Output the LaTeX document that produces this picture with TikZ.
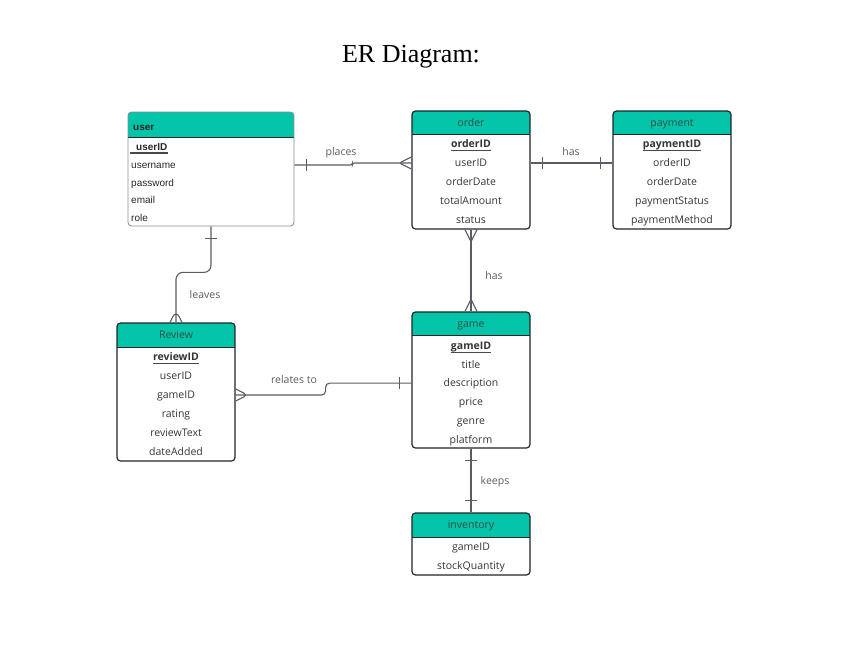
\documentclass[tikz,border=0pt]{standalone}
\usepackage{fontspec}
\setmainfont{Liberation Serif}
\newfontfamily\erfont{Open Sans}
\newfontfamily\userfont{Liberation Sans}
\usepackage{xcolor}
\usepackage{tikz}
\usetikzlibrary{decorations.markings}
\definecolor{tealc}{RGB}{2,196,168}
\definecolor{boxc}{RGB}{34,36,40}
\definecolor{userc}{RGB}{140,140,140}
\definecolor{linec}{RGB}{88,92,100}
\definecolor{txtc}{RGB}{50,52,56}
\definecolor{hdrc}{RGB}{48,76,72}
\newcommand{\attrsize}{\fontsize{10.5}{12}\selectfont}

\tikzset{
	one start/.style={postaction={decorate, decoration={markings, mark=at position 12pt with {\draw[linec, line width=1.1pt] (0,-6pt) -- (0,6pt);}}}},
	one end/.style={postaction={decorate, decoration={markings, mark=at position -12pt with {\draw[linec, line width=1.1pt] (0,-6pt) -- (0,6pt);}}}},
	many start/.style={postaction={decorate, decoration={markings, mark=at position 0 with {\draw[linec, line width=1.1pt] (0,-6pt) -- (12pt,0) -- (0,6pt);}}}},
	many end/.style={postaction={decorate, decoration={markings, mark=at position 1 with {\draw[linec, line width=1.1pt] (0,-6pt) -- (-12pt,0) -- (0,6pt);}}}}
}

\begin{document}
\begin{tikzpicture}[x=1pt, y=-1pt,
		entity/.style={draw=boxc, line width=1.2pt, rounded corners=3.5pt, inner sep=0pt,
			path picture={\fill[tealc, sharp corners] (path picture bounding box.north west) rectangle ([yshift=-#1]path picture bounding box.north east);
				\draw[boxc, line width=1pt, sharp corners] ([yshift=-#1]path picture bounding box.north west) -- ([yshift=-#1]path picture bounding box.north east);}},
		entity/.default=23pt,
		attr/.style={font=\erfont\attrsize, text=txtc, inner sep=0pt, text height=9pt, text depth=1.5pt},
		key/.style={attr, font=\erfont\bfseries\attrsize},
		hdr/.style={attr, text=hdrc},
		uattr/.style={attr, font=\userfont\fontsize{10}{12}\selectfont, text=black!85, anchor=west},
		rel/.style={draw=linec, line width=1.1pt},
		lbl/.style={font=\erfont\attrsize, text=linec, inner sep=1pt},
		uline/.style={draw=txtc!90, line width=1.4pt}
		]
		\useasboundingbox (0,0) rectangle (847,662);
		\node[anchor=base] (title) at (411,62) {\fontsize{26}{30}\selectfont ER Diagram:};
		
		% entities
		\node[entity=25.5pt, draw=userc, line width=0.8pt, minimum width=166pt, minimum height=114pt] (user) at (211,169) {};
		\node[entity, minimum width=118pt, minimum height=118pt] (order) at (471,170) {};
		\node[entity, minimum width=118pt, minimum height=118pt] (payment) at (672,170) {};
		\node[entity=24pt, minimum width=118pt, minimum height=138pt] (review) at (176,392) {};
		\node[entity, minimum width=118pt, minimum height=136pt] (game) at (471,380) {};
		\node[entity=24pt, minimum width=118pt, minimum height=62pt] (inventory) at (471,544) {};
		
		% user
		\node[uattr, font=\userfont\bfseries\fontsize{10}{12}\selectfont] (usrh) at (133,126.5) {user};
		\node[uattr, font=\userfont\bfseries\fontsize{10}{12}\selectfont] (usrk) at (136,146.5) {userID};
		\foreach \t [count=\i] in {username,password,email,role}
		\node[uattr] (usr\i) at (131, 147.5+17.5*\i) {\t};
		
		% order
		\node[hdr] (ordh) at (471,122.5) {order};
		\node[key] (ordk) at (471,144) {orderID};
		\foreach \t [count=\i] in {userID,orderDate,totalAmount,status}
		\node[attr] (ord\i) at (471, 144+19*\i) {\t};
		
		% payment
		\node[hdr] (payh) at (672,122.5) {payment};
		\node[key] (payk) at (672,144) {paymentID};
		\foreach \t [count=\i] in {orderID,orderDate,paymentStatus,paymentMethod}
		\node[attr] (pay\i) at (672, 144+19*\i) {\t};
		
		% review
		\node[hdr] (revh) at (176,335) {Review};
		\node[key] (revk) at (176,357) {reviewID};
		\foreach \t [count=\i] in {userID,gameID,rating,reviewText,dateAdded}
		\node[attr] (rev\i) at (176, 357+19*\i) {\t};
		
		% game
		\node[hdr] (gamh) at (471,324) {game};
		\node[key] (gamk) at (471,345.5) {gameID};
		\foreach \t [count=\i] in {title,description,price,genre,platform}
		\node[attr] (gam\i) at (471, 345.5+18.8*\i) {\t};
		
		% inventory
		\node[hdr] (invh) at (471,525) {inventory};
		\foreach \t [count=\i] in {gameID,stockQuantity}
		\node[attr] (inv\i) at (471, 528+19*\i) {\t};
		
		\foreach \k in {ordk,payk,revk,gamk}
		\draw[uline] ([yshift=-3pt]\k.base west) -- ([yshift=-3pt]\k.base east);
		\draw[uline, line width=1.6pt] ([xshift=-6pt,yshift=-3pt]usrk.base west) -- ([yshift=-3pt]usrk.base east);
		
		% relationships
		\draw[rel, one start, many end, rounded corners=2pt] (user.east |- usr1) -- ++(58,0) |- (order.west |- ord1);
		\draw[rel, one start, one end] (order.east |- ord1) -- (payment.west |- pay1);
		\draw[rel, many start, many end] (order.south) -- (game.north);
		\draw[rel, one start, many end, rounded corners=7pt] (user.south) -- ++(0,46) -| (review.north);
		\draw[rel, many start, one end, rounded corners=4pt] (review.east |- rev2) -- ++(90,0) |- (game.west |- gam2);
		\draw[rel, one start, one end] (game.south) -- (inventory.north);
		
		\node[lbl] (lplaces) at (341,153) {places};
		\node[lbl] (lpays) at (571,152) {has};
		\node[lbl] (lhas) at (494,276) {has};
		\node[lbl] (lleaves) at (205,295) {leaves};
		\node[lbl] (lrelates) at (294,380) {relates to};
		\node[lbl] (lkeeps) at (495,482) {keeps};
\end{tikzpicture}
\end{document}
